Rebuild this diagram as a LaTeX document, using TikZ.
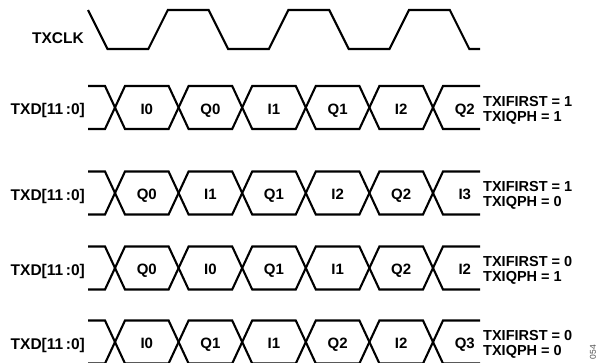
\documentclass[tikz,border=0pt]{standalone}
\usepackage{fontspec}
\setmainfont{Liberation Sans}
\begin{document}
\begin{tikzpicture}[x=1pt,y=-1pt,
  wave/.style={line width=2.1pt, line join=miter, line cap=butt},
  lab/.style={font=\fontsize{15.5}{17}\bfseries\selectfont, inner sep=0pt, anchor=base east},
  cell/.style={font=\fontsize{15}{17}\bfseries\selectfont, inner sep=0pt, anchor=base},
  cfg/.style={font=\fontsize{14.5}{16}\bfseries\selectfont, inner sep=0pt, anchor=base west}]
\useasboundingbox (0,0) rectangle (599,362);
% clock
\node[lab] (clk) at (84,43.5) {TXCLK};
\draw[wave] (88,10) -- (107.5,49) -- (148.3,49) -- (167.8,10) -- (208.6,10) -- (228.1,49)
  -- (268.9,49) -- (288.4,10) -- (329.2,10) -- (348.7,49) -- (389.5,49) -- (409,10)
  -- (449.8,10) -- (469.3,49) -- (480,49);
% data rows
\foreach \yc/\n/\la/\lb/\lc/\ld/\le/\lf/\fa/\fb in {
   107.5/1/I0/Q0/I1/Q1/I2/Q2/1/1,
   193/2/Q0/I1/Q1/I2/Q2/I3/1/0,
   268/3/Q0/I0/Q1/I1/Q2/I2/0/1,
   342/4/I0/Q1/I1/Q2/I2/Q3/0/0}{
  \begin{scope}[shift={(0,\yc)}]
    \node[lab] (txd\n) at (85,7) {TXD[11\,:0]};
    \draw[wave] (88,-21.5) -- (105,-21.5) -- (125,21.5) -- (168.6,21.5) -- (188.6,-21.5)
      -- (232.2,-21.5) -- (252.2,21.5) -- (295.8,21.5) -- (315.8,-21.5) -- (359.4,-21.5)
      -- (379.4,21.5) -- (423,21.5) -- (443,-21.5) -- (480,-21.5);
    \draw[wave] (88,21.5) -- (105,21.5) -- (125,-21.5) -- (168.6,-21.5) -- (188.6,21.5)
      -- (232.2,21.5) -- (252.2,-21.5) -- (295.8,-21.5) -- (315.8,21.5) -- (359.4,21.5)
      -- (379.4,-21.5) -- (423,-21.5) -- (443,21.5) -- (480,21.5);
    \node[cell] (c\n a) at (146.8,6.5) {\la};
    \node[cell] (c\n b) at (210.4,6.5) {\lb};
    \node[cell] (c\n c) at (274,6.5) {\lc};
    \node[cell] (c\n d) at (337.6,6.5) {\ld};
    \node[cell] (c\n e) at (401.2,6.5) {\le};
    \node[cell] (c\n f) at (464.8,6.5) {\lf};
    \node[cfg] (first\n) at (483,-1.5) {TXIFIRST = \fa};
    \node[cfg] (qph\n) at (483,13.5) {TXIQPH = \fb};
  \end{scope}
}
\node[font=\fontsize{8.5}{9}\selectfont, text=black!70, rotate=90, inner sep=0pt] (fig) at (593,352) {054};
\end{tikzpicture}
\end{document}
